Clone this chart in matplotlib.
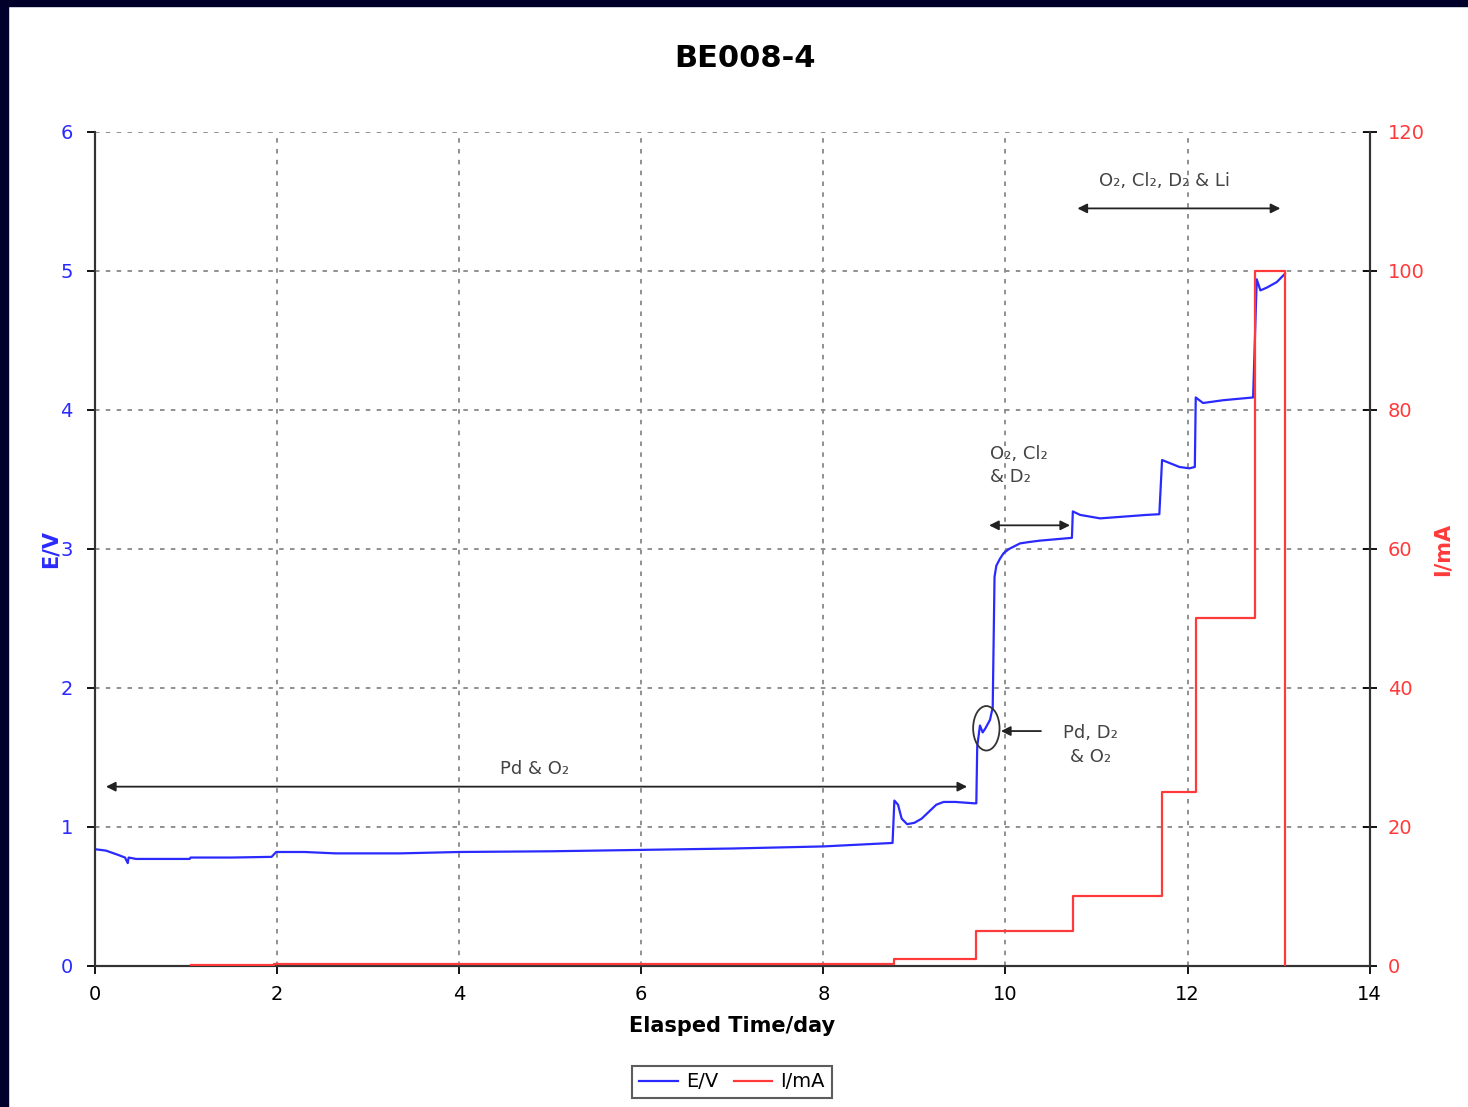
import matplotlib
matplotlib.use('Agg')
import matplotlib.pyplot as plt
from matplotlib.patches import Ellipse, Rectangle

# E/V trace
t_e = [0.0, 0.12, 0.25, 0.33, 0.36, 0.37, 0.45, 0.6, 1.04, 1.05, 1.5, 1.94, 1.99, 2.3, 2.64,
       3.35, 4.0, 5.0, 6.0, 7.0, 8.0, 8.76, 8.78, 8.82, 8.86, 8.92, 9.0, 9.08, 9.16, 9.24, 9.32,
       9.45, 9.66, 9.68, 9.69, 9.72, 9.75, 9.78, 9.83, 9.86, 9.88, 9.90, 9.94, 9.98, 10.04,
       10.10, 10.16, 10.26, 10.38, 10.73, 10.74, 10.82, 11.04, 11.55, 11.69, 11.72, 11.91,
       12.02, 12.08, 12.09, 12.17, 12.39, 12.72, 12.76, 12.80, 12.87, 12.98, 13.07]
e_v = [0.84, 0.83, 0.80, 0.78, 0.74, 0.78, 0.77, 0.77, 0.77, 0.78, 0.78, 0.785, 0.82, 0.82, 0.81,
       0.81, 0.82, 0.825, 0.835, 0.845, 0.86, 0.885, 1.19, 1.16, 1.06, 1.02, 1.03, 1.06, 1.11, 1.16, 1.18,
       1.18, 1.17, 1.17, 1.58, 1.73, 1.68, 1.71, 1.77, 1.86, 2.80, 2.88, 2.93, 2.97, 3.00,
       3.02, 3.04, 3.05, 3.06, 3.08, 3.27, 3.245, 3.22, 3.245, 3.25, 3.64, 3.59,
       3.58, 3.59, 4.09, 4.05, 4.07, 4.09, 4.94, 4.86, 4.88, 4.92, 4.98]

# I/mA steps
t_i = [1.05, 1.97, 8.78, 9.68, 10.74, 11.72, 12.09, 12.74, 13.07, 13.07]
i_ma = [0.1, 0.3, 1.0, 5.0, 10.0, 25.0, 50.0, 100.0, 100.0, 0.0]

blue = '#2a2aff'
red = '#ff3a3a'
txt = '#444444'

fig = plt.figure(figsize=(14.68, 11.07), dpi=100)
fig.patches.append(Rectangle((0, 0.995), 1, 0.005, transform=fig.transFigure, color='#00002a', zorder=-1))
fig.patches.append(Rectangle((0, 0), 0.0055, 1, transform=fig.transFigure, color='#00002a', zorder=-1))

ax = fig.add_axes([0.0647, 0.1274, 0.8683, 0.7534])
ax2 = ax.twinx()

ax.plot(t_e, e_v, color=blue, lw=1.6, zorder=3)
ax2.plot(t_i, i_ma, color=red, lw=1.6, drawstyle='steps-post', zorder=3)

ax.set_xlim(0, 14)
ax.set_ylim(0, 6)
ax2.set_ylim(0, 120)
ax.set_xticks(range(0, 15, 2))
ax.set_yticks(range(0, 7))
ax2.set_yticks(range(0, 121, 20))

ax.grid(True, color='#888888', linestyle=(0, (2.5, 3.5)), lw=1.3)
for a in (ax, ax2):
    a.spines['top'].set_visible(False)
    for s in ('left', 'right', 'bottom'):
        a.spines[s].set_color('#333333')
        a.spines[s].set_linewidth(1.5)

ax.tick_params(axis='x', direction='out', length=6, width=1.3, labelsize=14, pad=8)
ax.tick_params(axis='y', direction='out', length=6, width=1.3, labelsize=14, labelcolor=blue, pad=10)
ax2.tick_params(axis='y', direction='inout', length=10, width=1.3, labelsize=14, labelcolor=red, pad=8)

ax.set_xlabel('Elasped Time/day', fontsize=15, fontweight='bold', labelpad=8)
ax.set_ylabel('E/V', fontsize=15, fontweight='bold', color=blue, labelpad=0)
ax2.set_ylabel('I/mA', fontsize=15, fontweight='bold', color=red, labelpad=6)

fig.text(0.5075, 0.9476, 'BE008-4', ha='center', va='center', fontsize=22, fontweight='bold')

# annotations
arrow = dict(arrowstyle='<|-|>', color='#222222', lw=1.3, mutation_scale=14)
ax.annotate('', xy=(0.09, 1.29), xytext=(9.61, 1.29), arrowprops=arrow)
ax.text(4.83, 1.42, 'Pd & O\u2082', ha='center', va='center', fontsize=13, color=txt)

ax.annotate('', xy=(9.79, 3.17), xytext=(10.74, 3.17), arrowprops=arrow)
ax.text(9.83, 3.6, 'O\u2082, Cl\u2082\n& D\u2082', ha='left', va='center', fontsize=13, color=txt,
        linespacing=1.3)

ax.add_patch(Ellipse((9.79, 1.71), 0.29, 0.32, fill=False, edgecolor='#333333', lw=1.3, zorder=4))
ax.annotate('', xy=(9.92, 1.69), xytext=(10.42, 1.69),
            arrowprops=dict(arrowstyle='-|>', color='#222222', lw=1.3, mutation_scale=14))
ax.text(10.93, 1.59, 'Pd, D\u2082\n& O\u2082', ha='center', va='center', fontsize=13, color=txt,
        linespacing=1.4)

ax.annotate('', xy=(10.76, 5.45), xytext=(13.05, 5.45), arrowprops=arrow)
ax.text(11.75, 5.65, 'O\u2082, Cl\u2082, D\u2082 & Li', ha='center', va='center', fontsize=13, color=txt)

handles = [ax.lines[0], ax2.lines[0]]
leg = fig.legend(handles, ['E/V', 'I/mA'], loc='center', bbox_to_anchor=(0.4986, 0.0226), ncol=2,
                 fontsize=14, frameon=True, fancybox=False, edgecolor='#333333', handlelength=2,
                 columnspacing=0.8, handletextpad=0.4, borderpad=0.35)
leg.get_frame().set_linewidth(1.5)

fig.savefig('out.png', dpi=100, facecolor='white')
